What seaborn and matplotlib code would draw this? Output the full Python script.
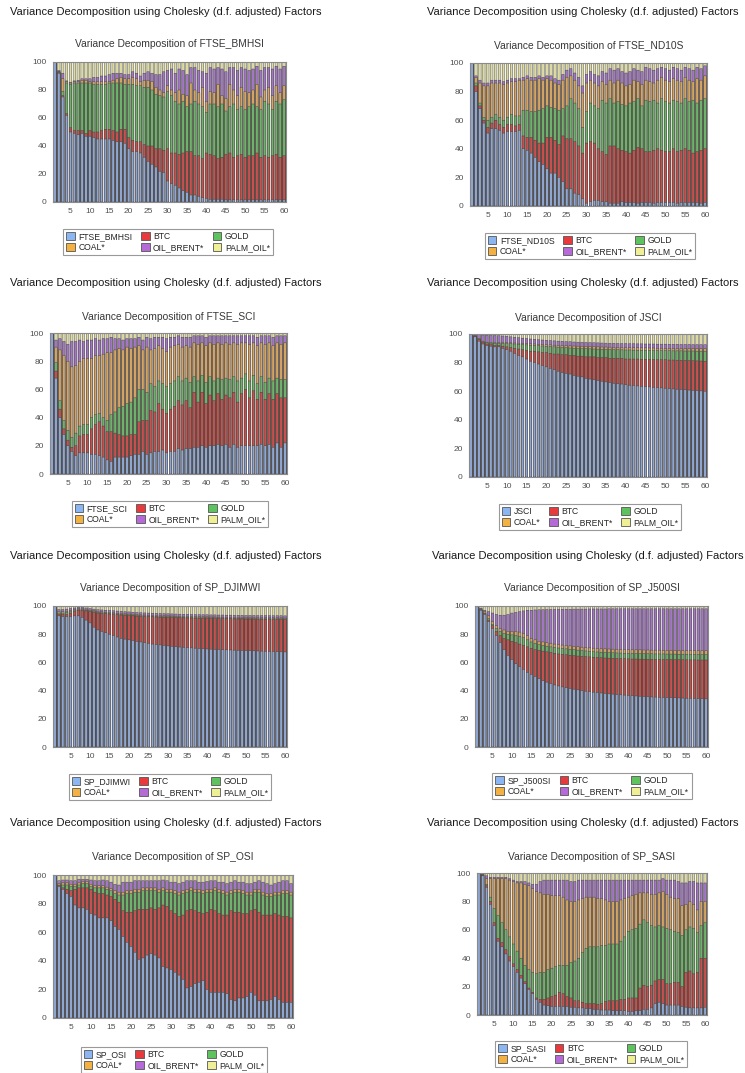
import matplotlib
matplotlib.use("Agg")
import matplotlib.pyplot as plt
from matplotlib.patches import Patch
import seaborn as sns

# Cholesky variance decompositions, horizons 1..60
# Each list is the upper edge (cumulative %) of a band:
# own index, +BTC, +GOLD, +COAL*, +OIL_BRENT*; PALM_OIL* fills up to 100.
periods = list(range(1, 61))
factors = ["BTC", "GOLD", "COAL*", "OIL_BRENT*", "PALM_OIL*"]

bmhsi_own = [100, 92, 75, 62, 50, 49, 48, 49, 47, 47,
             46, 45, 45, 45, 45, 44, 43, 43, 42, 38,
             36, 36, 35, 32, 29, 27, 25, 22, 21, 15,
             13, 12, 10, 8, 7, 5, 5, 4, 3, 2.5,
             2, 2, 2, 2, 1.5, 1.5, 1.5, 1.5, 1.5, 1.5,
             1.5, 1.5, 1.5, 1.5, 1.5, 1.5, 1.5, 1.5, 1.5, 1.5]
bmhsi_btc = [100, 92.5, 76, 63, 53, 51, 51, 51, 49, 51,
             50, 50, 51, 52, 52, 51, 50, 52, 52, 46,
             44, 43, 43, 41, 40, 40, 38, 38, 37, 38,
             35, 35, 34, 35, 36, 36, 33, 33, 31, 35,
             34, 33, 31, 32, 34, 35, 32, 33, 34, 32,
             33, 33, 35, 32, 33, 32, 33, 34, 32, 33]
bmhsi_gold = [100, 93, 79, 85, 84, 85, 85, 85, 85, 85,
              84, 84, 84, 84, 85, 85, 85, 85, 84, 84,
              84, 83, 83, 82, 82, 80, 77, 76, 75, 79,
              76, 72, 70, 72, 68, 70, 72, 70, 68, 64,
              70, 70, 68, 70, 65, 68, 70, 66, 68, 66,
              68, 70, 68, 66, 72, 70, 66, 72, 70, 73]
bmhsi_coal = [100, 93, 88, 86, 85, 86, 86, 87, 87, 86,
              86, 86, 86, 86, 86, 87, 88, 89, 88, 88,
              89, 88, 86, 87, 87, 86, 82, 80, 78, 83,
              80, 78, 80, 77, 76, 85, 80, 78, 82, 72,
              79, 78, 84, 76, 74, 84, 80, 76, 82, 79,
              78, 80, 84, 75, 80, 82, 76, 83, 78, 83]
bmhsi_oil = [100, 94, 92, 86.5, 85.5, 86.5, 87, 88, 88, 88,
             89, 89, 90, 90, 91, 92, 92, 92, 91, 91,
             93, 92, 90, 92, 93, 92, 91, 91, 93, 94,
             95, 92, 95, 94, 91, 96, 96, 94, 93, 92,
             96, 95, 96, 95, 93, 96, 96, 94, 96, 95,
             94, 95, 97, 94, 96, 96, 95, 97, 95, 97]

nd10s_own = [100, 80, 68, 58, 51, 54, 54, 53, 51, 52,
             52, 52, 53, 40, 39, 37, 34, 31, 29, 26,
             23, 23, 20, 17, 12, 12, 9, 8, 5, 2,
             3, 4, 4, 3, 3, 2, 2, 2, 3, 2.5,
             2.5, 2.5, 2, 2.5, 2.5, 2.5, 2, 2.5, 2.5, 2.5,
             2.5, 2.5, 2, 2.5, 2.5, 2.5, 2.5, 2.5, 2, 2.5]
nd10s_btc = [100, 84, 70, 60, 55, 58, 60, 57, 55, 57,
             57, 56, 57, 49, 48, 48, 46, 44, 44, 48,
             48, 46, 43, 49, 47, 47, 45, 42, 37, 44,
             45, 44, 40, 38, 36, 42, 42, 40, 39, 38,
             37, 39, 41, 40, 38, 38, 39, 40, 39, 38,
             38, 40, 38, 39, 40, 39, 37, 38, 39, 40]
nd10s_gold = [100, 86, 72, 62, 60, 62, 64, 62, 60, 62,
              64, 63, 63, 67, 67, 66, 66, 67, 68, 70,
              69, 68, 67, 68, 70, 75, 72, 68, 55, 66,
              72, 70, 68, 74, 72, 75, 72, 73, 71, 70,
              72, 73, 75, 70, 74, 73, 74, 72, 75, 73,
              72, 74, 73, 72, 75, 73, 74, 72, 74, 75]
nd10s_coal = [100, 90, 86, 84, 84, 86, 86, 86, 85, 86,
              87, 87, 88, 88, 89, 88, 88, 89, 88, 89,
              88, 86, 85, 88, 90, 91, 88, 84, 79, 86,
              88, 86, 84, 87, 85, 88, 86, 88, 86, 84,
              85, 88, 87, 85, 88, 87, 86, 88, 90, 88,
              87, 89, 88, 87, 90, 88, 87, 89, 88, 91]
nd10s_oil = [100, 91, 88, 86, 86, 88, 88, 88, 87, 88,
             89, 89, 89, 90, 91, 90, 90, 91, 90, 91,
             91, 89, 88, 92, 95, 96, 93, 90, 84, 92,
             94, 92, 91, 94, 93, 96, 95, 96, 94, 93,
             94, 96, 95, 94, 97, 96, 95, 96, 97, 96,
             95, 97, 96, 95, 97, 96, 95, 97, 96, 98]

sci_own = [100, 68, 40, 28, 20, 16, 13, 15, 15, 15,
           14, 14, 13, 12, 10, 9, 12, 12, 12, 12,
           13, 14, 14, 16, 14, 15, 16, 16, 17, 15,
           16, 16, 18, 17, 18, 18, 19, 19, 20, 19,
           20, 20, 21, 20, 21, 19, 21, 19, 20, 20,
           20, 20, 20, 21, 20, 21, 19, 22, 19, 22]
sci_btc = [100, 73, 46, 32, 24, 19, 20, 27, 28, 28,
           32, 35, 37, 34, 30, 30, 29, 28, 27, 27,
           28, 28, 37, 38, 38, 45, 44, 50, 46, 43,
           46, 48, 52, 49, 52, 47, 58, 51, 58, 50,
           56, 52, 57, 53, 56, 54, 58, 51, 57, 60,
           54, 59, 53, 58, 53, 57, 53, 57, 54, 54]
sci_gold = [100, 79, 52, 38, 31, 26, 29, 34, 35, 35,
            40, 42, 43, 40, 38, 42, 44, 47, 48, 50,
            51, 54, 60, 60, 58, 64, 62, 66, 64, 62,
            64, 66, 69, 66, 68, 65, 69, 66, 70, 65,
            69, 66, 68, 67, 68, 67, 69, 66, 68, 71,
            66, 70, 64, 69, 65, 68, 66, 68, 67, 67]
sci_coal = [100, 90, 88, 84, 80, 76, 77, 80, 82, 82,
            82, 84, 84, 85, 86, 86, 88, 89, 88, 90,
            89, 90, 91, 88, 90, 88, 89, 91, 89, 87,
            90, 91, 92, 90, 91, 90, 93, 92, 93, 91,
            93, 92, 93, 92, 93, 92, 93, 92, 93, 93,
            92, 93, 91, 93, 92, 93, 91, 93, 92, 93]
sci_oil = [100, 95, 96, 94, 92, 94, 94, 95, 94, 95,
           95, 96, 95, 96, 96, 97, 96, 96, 95, 96,
           96, 96, 97, 95, 97, 96, 97, 97, 97, 96,
           97, 97, 98, 97, 97, 97, 98, 98, 98, 97,
           98, 98, 98, 98, 98, 98, 98, 98, 98, 98,
           98, 98, 97, 98, 98, 98, 97, 98, 98, 98]

jsci_own = [100, 98, 95, 93, 92, 91.5, 91, 91, 90, 89,
            88, 86.5, 85, 84, 82.5, 81, 80, 79, 78, 77,
            76, 75, 74, 73, 72.5, 72, 71, 70.5, 70, 69,
            68.5, 68, 67.5, 67, 66.5, 66, 65.5, 65.2, 65, 64.5,
            64.2, 64, 63.7, 63.4, 63.2, 63, 62.7, 62.5, 62.3, 62,
            61.8, 61.6, 61.4, 61.2, 61, 60.8, 60.6, 60.4, 60.2, 60]
jsci_btc = [100, 98.5, 96, 94, 93, 92.5, 92, 92, 91.5, 91,
            90.5, 90, 89.5, 89, 88.5, 88, 88, 87.5, 87, 87,
            86.5, 86, 86, 85.5, 85.5, 85, 85, 84.5, 84.5, 84,
            84, 84, 83.5, 83.5, 83.5, 83, 83, 83, 83, 82.5,
            82.5, 82.5, 82.5, 82.3, 82.3, 82.2, 82.2, 82, 82, 82,
            81.8, 81.8, 81.7, 81.6, 81.5, 81.4, 81.3, 81.2, 81.1, 81]
jsci_gold = [100, 98.6, 96.5, 94.5, 93.8, 93.6, 93.5, 93.5, 93.4, 93.3,
             93.2, 93, 92.8, 92.6, 92.4, 92.2, 92, 91.8, 91.6, 91.4,
             91.2, 91, 90.8, 90.6, 90.4, 90.2, 90, 89.9, 89.8, 89.7,
             89.6, 89.5, 89.4, 89.3, 89.2, 89.1, 89, 89, 88.9, 88.8,
             88.8, 88.7, 88.6, 88.6, 88.5, 88.5, 88.4, 88.4, 88.3, 88.3,
             88.3, 88.2, 88.2, 88.2, 88.1, 88.1, 88.1, 88, 88, 88]
jsci_coal = [100, 98.8, 97, 95, 94.3, 94.1, 94, 94, 94, 93.9,
             93.8, 93.7, 93.6, 93.4, 93.3, 93.1, 93, 92.8, 92.7, 92.5,
             92.4, 92.2, 92.1, 92, 91.8, 91.7, 91.6, 91.5, 91.4, 91.3,
             91.2, 91.1, 91, 90.9, 90.9, 90.8, 90.7, 90.7, 90.6, 90.5,
             90.5, 90.4, 90.4, 90.3, 90.3, 90.2, 90.2, 90.1, 90.1, 90,
             90, 90, 89.9, 89.9, 89.9, 89.8, 89.8, 89.8, 89.7, 89.7]
jsci_oil = [100, 99.6, 99.5, 99.3, 99.2, 99, 99, 98.8, 98.6, 98.4,
            98, 97.7, 97.4, 97.1, 96.8, 96.5, 96.3, 96, 95.8, 95.6,
            95.4, 95.2, 95, 94.9, 94.7, 94.6, 94.4, 94.3, 94.2, 94.1,
            94, 93.9, 93.8, 93.7, 93.6, 93.5, 93.5, 93.4, 93.3, 93.3,
            93.2, 93.2, 93.1, 93.1, 93, 93, 93, 92.9, 92.9, 92.9,
            92.8, 92.8, 92.8, 92.7, 92.7, 92.7, 92.6, 92.6, 92.6, 92.5]

djimwi_own = [100, 93, 92.5, 92.5, 92.5, 93, 93, 92, 90, 88,
              85, 83, 82, 81, 80, 79, 78, 77, 76.5, 76,
              75.5, 75, 74.5, 74, 73.5, 73, 72.7, 72.4, 72, 71.7,
              71.4, 71.1, 70.9, 70.7, 70.5, 70.3, 70.1, 69.9, 69.7, 69.5,
              69.4, 69.2, 69.1, 69, 68.9, 68.8, 68.7, 68.6, 68.5, 68.4,
              68.3, 68.2, 68.1, 68, 67.9, 67.8, 67.7, 67.6, 67.5, 67.4]
djimwi_btc = [100, 94, 94, 94, 95, 96, 97, 97, 96.5, 96,
              95.5, 95, 94.8, 94.5, 94.3, 94, 93.8, 93.6, 93.4, 93.2,
              93, 92.8, 92.6, 92.5, 92.4, 92.3, 92.2, 92.1, 92, 91.9,
              91.8, 91.7, 91.6, 91.5, 91.5, 91.4, 91.3, 91.3, 91.2, 91.2,
              91.1, 91.1, 91, 91, 90.9, 90.9, 90.8, 90.8, 90.8, 90.7,
              90.7, 90.7, 90.6, 90.6, 90.6, 90.5, 90.5, 90.5, 90.5, 90.4]
djimwi_gold = [100, 95, 95, 95.5, 96, 96.8, 97.5, 97.5, 97, 96.5,
               96, 95.5, 95.3, 95, 94.8, 94.5, 94.3, 94.1, 93.9, 93.7,
               93.5, 93.3, 93.1, 93, 92.9, 92.8, 92.7, 92.6, 92.5, 92.4,
               92.3, 92.2, 92.1, 92, 92, 91.9, 91.8, 91.8, 91.7, 91.7,
               91.6, 91.6, 91.5, 91.5, 91.4, 91.4, 91.3, 91.3, 91.3, 91.2,
               91.2, 91.2, 91.1, 91.1, 91.1, 91, 91, 91, 91, 90.9]
djimwi_coal = [100, 96, 96, 96.3, 96.8, 97.4, 98, 98, 97.6, 97.1,
               96.6, 96.1, 95.9, 95.6, 95.4, 95.1, 94.9, 94.7, 94.5, 94.3,
               94.1, 93.9, 93.7, 93.6, 93.5, 93.4, 93.3, 93.2, 93.1, 93,
               92.9, 92.8, 92.7, 92.6, 92.6, 92.5, 92.4, 92.4, 92.3, 92.3,
               92.2, 92.2, 92.1, 92.1, 92, 92, 91.9, 91.9, 91.9, 91.8,
               91.8, 91.8, 91.7, 91.7, 91.7, 91.6, 91.6, 91.6, 91.6, 91.5]
djimwi_oil = [100, 97.5, 97.5, 97.8, 98.2, 98.6, 99, 99, 98.6, 98.2,
              97.8, 97.4, 97.2, 97, 96.8, 96.6, 96.4, 96.2, 96, 95.8,
              95.6, 95.4, 95.2, 95.1, 95, 94.9, 94.8, 94.7, 94.6, 94.5,
              94.4, 94.3, 94.2, 94.1, 94.1, 94, 93.9, 93.9, 93.8, 93.8,
              93.7, 93.7, 93.6, 93.6, 93.5, 93.5, 93.4, 93.4, 93.4, 93.3,
              93.3, 93.3, 93.2, 93.2, 93.2, 93.1, 93.1, 93.1, 93.1, 93]

j500si_own = [100, 97, 94, 89, 84, 79, 74, 69, 65, 62,
              59, 57, 55, 53, 51.5, 50, 48.5, 47, 46, 45,
              44, 43.3, 42.6, 42, 41.5, 41, 40.5, 40, 39.6, 39.2,
              38.9, 38.6, 38.3, 38, 37.7, 37.5, 37.2, 37, 36.8, 36.6,
              36.4, 36.2, 36, 35.8, 35.7, 35.5, 35.4, 35.3, 35.2, 35.1,
              35, 34.9, 34.8, 34.7, 34.6, 34.5, 34.4, 34.3, 34.2, 34.1]
j500si_btc = [100, 97.2, 94.5, 90, 86, 82, 79, 77, 76, 75,
              74, 73, 72, 71, 70, 69, 68.5, 68, 67.5, 67,
              66.5, 66, 65.7, 65.4, 65.1, 64.8, 64.5, 64.3, 64.1, 63.9,
              63.7, 63.5, 63.3, 63.1, 63, 62.9, 62.8, 62.7, 62.6, 62.5,
              62.4, 62.4, 62.3, 62.3, 62.2, 62.2, 62.1, 62.1, 62, 62,
              62, 61.9, 61.9, 61.9, 61.8, 61.8, 61.8, 61.7, 61.7, 61.7]
j500si_gold = [100, 97.5, 95, 91, 87, 84, 82, 80.5, 80, 79.5,
               79, 78.5, 77.5, 76, 74.5, 73.5, 72.5, 72, 71.5, 71,
               70.6, 70.2, 69.9, 69.6, 69.3, 69, 68.7, 68.4, 68.1, 67.8,
               67.6, 67.4, 67.2, 67, 66.9, 66.8, 66.7, 66.6, 66.5, 66.4,
               66.3, 66.3, 66.2, 66.2, 66.1, 66.1, 66, 66, 66, 65.9,
               65.9, 65.9, 65.8, 65.8, 65.8, 65.7, 65.7, 65.7, 65.6, 65.6]
j500si_coal = [100, 98, 96, 93, 89, 86, 84, 83, 82, 82,
               82, 81.5, 80.5, 79, 77, 76, 75, 74.5, 74, 73.5,
               73, 72.6, 72.3, 72, 71.7, 71.4, 71.1, 70.8, 70.5, 70.3,
               70.1, 69.9, 69.7, 69.6, 69.5, 69.4, 69.3, 69.2, 69.1, 69,
               69, 68.9, 68.9, 68.8, 68.8, 68.7, 68.7, 68.7, 68.6, 68.6,
               68.6, 68.5, 68.5, 68.5, 68.5, 68.4, 68.4, 68.4, 68.4, 68.3]
j500si_oil = [100, 98.5, 97, 96, 95, 94, 93.5, 93.5, 94, 95,
              95.5, 96, 96.5, 97, 97, 97.2, 97.3, 97.4, 97.5, 97.5,
              97.6, 97.6, 97.7, 97.7, 97.7, 97.8, 97.8, 97.8, 97.8, 97.9,
              97.9, 97.9, 97.9, 97.9, 98, 98, 98, 98, 98, 98,
              98, 98, 98, 98, 98, 98, 98, 98, 98, 98,
              98, 98, 98, 98, 98, 98, 98, 98, 98, 98]

osi_own = [100, 92, 90, 87, 85, 79, 77, 77, 76, 73,
           72, 70, 70, 70, 68, 64, 62, 57, 53, 50,
           46, 41, 42, 44, 45, 44, 42, 36, 35, 34,
           32, 30, 27, 21, 22, 24, 25, 26, 20, 18,
           18, 18, 18, 17, 13, 12, 14, 14, 15, 18,
           16, 12, 12, 12, 13, 15, 13, 11, 11, 11]
osi_btc = [100, 92.5, 91, 90, 89, 90, 91, 91, 91, 90,
           88, 87, 87, 86, 85, 83, 81, 75, 74, 74,
           75, 76, 76, 76, 77, 76, 77, 79, 78, 75,
           73, 71, 72, 75, 76, 75, 74, 73, 74, 76,
           75, 73, 72, 72, 75, 74, 74, 73, 73, 75,
           76, 74, 72, 72, 72, 73, 72, 71, 71, 70]
osi_gold = [100, 93, 93, 93, 92, 92, 93, 94, 94, 92,
            91, 91, 91, 90, 89, 87, 86, 86, 87, 87,
            88, 88, 89, 89, 89, 89, 88, 89, 88, 88,
            87, 86, 87, 88, 89, 88, 88, 87, 88, 88,
            89, 88, 87, 86, 87, 88, 88, 87, 86, 86,
            88, 88, 86, 85, 85, 86, 86, 87, 87, 86]
osi_coal = [100, 94, 94.5, 94.5, 93.5, 93.5, 94.5, 95.5, 95.5, 93.5,
            92.5, 92.5, 92.5, 91.5, 90.5, 89, 88, 88, 89, 89,
            90, 90, 91, 91, 91, 91, 90, 91, 90, 90,
            89, 88, 89, 90, 91, 90, 90, 89, 90, 90,
            91, 90, 89, 88, 89, 90, 90, 89, 88, 88,
            90, 90, 88, 87, 87, 88, 88, 89, 89, 88]
osi_oil = [100, 96, 96.5, 96.5, 96, 96, 97, 97, 97, 96.5,
           96, 96, 96.5, 96, 95, 93.5, 93, 95, 95, 95,
           96, 96, 96, 96, 96, 96, 96, 96.5, 96, 95,
           95, 94, 95, 96, 96, 96, 95, 95, 95.5, 96,
           96, 95, 95, 94, 95, 96, 95, 95, 94, 94,
           95, 96, 95, 94, 93, 94, 95, 96, 96, 94]

sasi_own = [100, 98, 90, 78, 63, 52, 48, 43, 38, 34,
            30, 26, 22, 18, 15, 11, 9, 7, 6.5, 6,
            6, 6, 6, 6, 5.5, 5.5, 5, 5, 4.5, 4.5,
            4, 4, 3.5, 3.5, 3.5, 3, 3, 3, 3, 2.5,
            2.5, 3, 3, 4, 4, 5, 8, 9, 8, 7,
            7, 7, 7, 6, 5.5, 5, 5, 5, 5, 5.5]
sasi_btc = [100, 98.5, 91, 80, 65, 54, 51, 46, 41, 36,
            32, 28, 23.5, 19, 16, 12, 11, 11, 12, 13,
            14, 16, 15, 13, 12, 10, 10, 9, 8, 8,
            8, 7.5, 8, 9.5, 10, 10, 10, 11, 11, 12,
            12, 12, 19, 21, 20, 21, 24, 25, 25, 22,
            22, 23, 23, 20, 30, 31, 29, 30, 40, 40]
sasi_gold = [100, 98.7, 92, 83, 75, 70, 65, 60, 55, 50,
             45, 40, 35, 32, 30, 29, 30, 30, 32, 33,
             34, 35, 35, 35, 37, 38, 40, 44, 47, 48,
             48, 48, 49, 49, 50, 50, 50, 52, 55, 59,
             60, 61, 64, 67, 65, 63, 62, 63, 62, 61,
             60, 59, 58, 56, 60, 62, 61, 58, 63, 65]
sasi_coal = [100, 99, 96, 96, 96, 96, 96, 96, 95, 94,
             93, 93, 92, 91, 89, 87, 86, 85, 85, 84,
             84, 84, 83, 81, 80, 80, 81, 82, 83, 83,
             83, 82, 82, 81, 80, 80, 80, 81, 82, 83,
             84, 85, 86, 86, 86, 85, 85, 86, 87, 85,
             83, 82, 82, 77, 78, 80, 78, 74, 80, 80]
sasi_oil = [100, 99.5, 98, 97, 97, 97, 97, 97, 96, 95,
            94, 94, 94, 93, 92, 92, 94, 95, 95, 95,
            95, 95, 95, 95, 94, 94, 95, 95, 95, 95,
            95, 95, 95, 95, 95, 95, 95, 95, 95, 95,
            95, 95, 95, 95, 95, 95, 95, 95, 96, 95,
            95, 95, 94, 93, 93, 94, 94, 93, 93, 93]

panels = [
    ("FTSE_BMHSI", [bmhsi_own, bmhsi_btc, bmhsi_gold, bmhsi_coal, bmhsi_oil]),
    ("FTSE_ND10S", [nd10s_own, nd10s_btc, nd10s_gold, nd10s_coal, nd10s_oil]),
    ("FTSE_SCI", [sci_own, sci_btc, sci_gold, sci_coal, sci_oil]),
    ("JSCI", [jsci_own, jsci_btc, jsci_gold, jsci_coal, jsci_oil]),
    ("SP_DJIMWI", [djimwi_own, djimwi_btc, djimwi_gold, djimwi_coal, djimwi_oil]),
    ("SP_J500SI", [j500si_own, j500si_btc, j500si_gold, j500si_coal, j500si_oil]),
    ("SP_OSI", [osi_own, osi_btc, osi_gold, osi_coal, osi_oil]),
    ("SP_SASI", [sasi_own, sasi_btc, sasi_gold, sasi_coal, sasi_oil]),
]

# layout in pixels: axes (left, top, right, bottom), header x/y, subtitle y, legend centre
layout = [
    ((53, 62, 286, 202), (10, 12), 44, (168, 242)),
    ((470, 63, 707, 206), (427, 12), 46, (590, 246)),
    ((50, 333, 287, 474), (10, 283), 317, (170, 514)),
    ((469, 334, 707, 477), (427, 283), 318, (590, 517)),
    ((53, 606, 287, 747), (10, 556), 588, (170, 787)),
    ((475, 606, 708, 747), (432, 556), 588, (592, 786)),
    ((53, 875, 293, 1018), (10, 823), 857, (174, 1060)),
    ((477, 873, 707, 1015), (427, 823), 857, (591, 1054)),
]

bar_colors = ["#8ea7d0", "#c9504f", "#6db36b", "#d4a463", "#a476c6", "#dedba2"]
key_colors = ["#8cb6f2", "#e8393c", "#5ec25e", "#f2b140", "#b66ad8", "#efef96"]

sns.set_style("white")
plt.rcParams["font.family"] = ["Liberation Sans", "DejaVu Sans"]

W, H = 745, 1073
fig = plt.figure(figsize=(W / 100, H / 100), dpi=100)


def fx(px):
    return px / W


def fy(py):
    return 1 - py / H


for (name, levels), (box, head, sub_y, leg) in zip(panels, layout):
    left, top, right, bottom = box
    ax = fig.add_axes([fx(left), fy(bottom), (right - left) / W, (bottom - top) / H])
    tops = levels + [[100] * len(periods)]
    # draw the tallest band first, each lower band is painted over it
    for lvl, col in reversed(list(zip(tops, bar_colors))):
        sns.barplot(x=periods, y=lvl, color=col, native_scale=True, width=0.64,
                    saturation=1, errorbar=None, edgecolor="#3a3a3a",
                    linewidth=0.3, snap=False, ax=ax)
    ax.set_xlim(0.5, 60.5)
    ax.set_ylim(0, 100)
    ax.set_xticks(range(5, 61, 5))
    ax.set_yticks(range(0, 101, 20))
    ax.set_xlabel("")
    ax.set_ylabel("")
    ax.tick_params(labelsize=6, colors="#505050", length=2.5, width=0.6, pad=2)
    for sp in ax.spines.values():
        sp.set_color("#8a8a8a")
        sp.set_linewidth(0.8)

    fig.text(fx(head[0]), fy(head[1]),
             "Variance Decomposition using Cholesky (d.f. adjusted) Factors",
             ha="left", va="center", fontsize=8.0, color="#1a1a1a")
    fig.text(fx((left + right) / 2), fy(sub_y), f"Variance Decomposition of {name}",
             ha="center", va="center", fontsize=7.4, color="#383838")

    labels = [name] + factors
    handles = [Patch(facecolor=c, edgecolor="#555555", linewidth=0.6) for c in key_colors]
    order = [0, 3, 1, 4, 2, 5]
    lg = fig.legend([handles[i] for i in order], [labels[i] for i in order],
                    loc="center", bbox_to_anchor=(fx(leg[0]), fy(leg[1])), ncol=3,
                    fontsize=6.2, frameon=True, fancybox=False, edgecolor="#808080",
                    handlelength=1.0, handleheight=1.0, handletextpad=0.4,
                    columnspacing=1.0, borderpad=0.35, labelspacing=0.2)
    lg.get_frame().set_linewidth(0.8)

fig.savefig("out.png", dpi=100)
